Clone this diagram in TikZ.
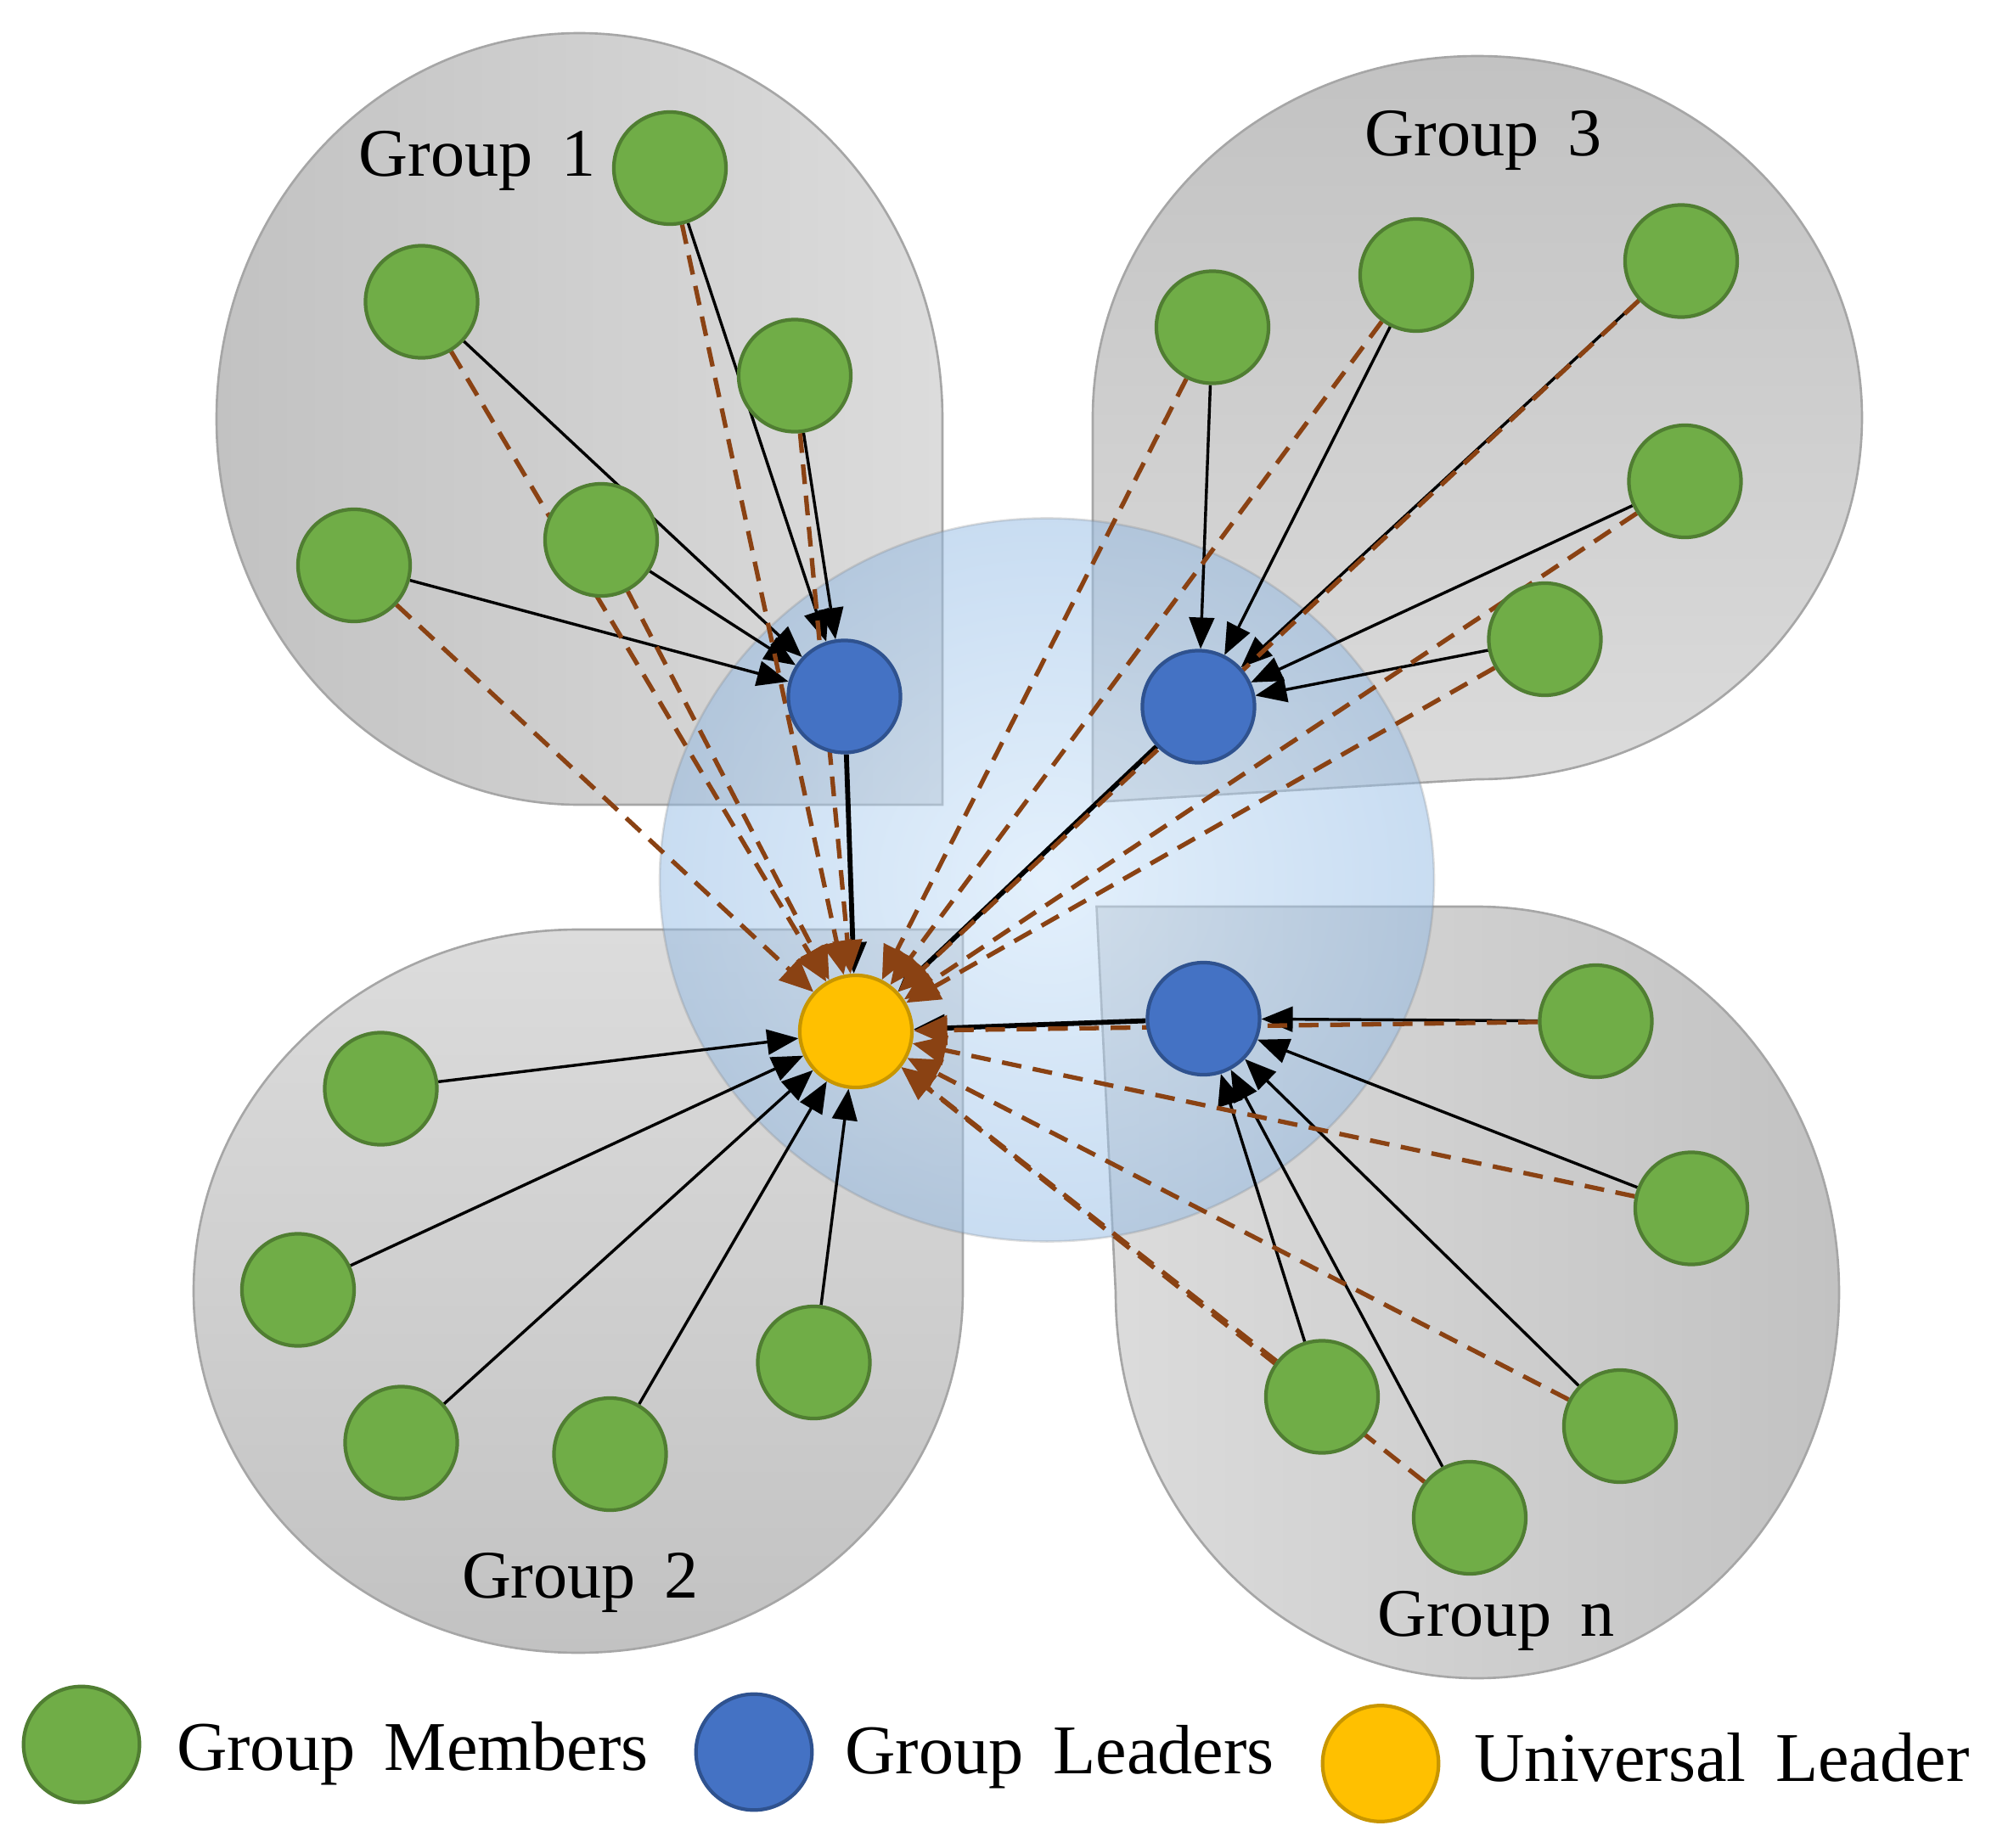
\documentclass[tikz,border=0pt]{standalone}
\usepackage{fontspec}
\setmainfont{Liberation Serif}
\usetikzlibrary{arrows.meta}
\definecolor{memfill}{HTML}{70AD47}
\definecolor{memdraw}{HTML}{507E32}
\definecolor{leadfill}{HTML}{4472C4}
\definecolor{leaddraw}{HTML}{2F528F}
\definecolor{unifill}{HTML}{FFC000}
\definecolor{unidraw}{HTML}{C89600}
\definecolor{dashbrown}{HTML}{8A4213}
\definecolor{glight}{HTML}{DCDCDC}
\definecolor{gdark}{HTML}{C2C2C2}
\definecolor{gborder}{HTML}{A6A6A6}
\definecolor{cin}{RGB}{200,226,250}
\definecolor{cout}{RGB}{146,186,228}
\newcommand\grpfont{\fontsize{15.2}{18}\selectfont}
\newcommand\legfont{\fontsize{15.6}{18}\selectfont}
\newcommand\wsp{\hspace{0.42em}}
\pgfdeclarelayer{bg}
\pgfdeclarelayer{edges}
\pgfsetlayers{bg,edges,main}
\begin{document}
\begin{tikzpicture}[x=0.01cm,y=0.01cm,
  member/.style={circle, draw=memdraw, fill=memfill, line width=0.8pt, minimum size=0.88cm, inner sep=0pt},
  leader/.style={member, draw=leaddraw, fill=leadfill},
  uleader/.style={member, draw=unidraw, fill=unifill},
  legendmark/.style={minimum size=0.91cm},
  solidarrow/.style={draw=black, line width=0.65pt, -{Triangle[length=7pt,width=5.6pt]}},
  leadarrow/.style={draw=black, line width=1.1pt, -{Triangle[length=7pt,width=6pt]}},
  dasharrow/.style={draw=dashbrown, line width=1pt, dash pattern=on 4.4pt off 2.6pt, -{Triangle[length=7.5pt,width=6.5pt]}},
  grouplabel/.style={font=\grpfont, anchor=base west, inner sep=0pt},
  legendlabel/.style={font=\legfont, anchor=base west, inner sep=0pt},
  groupshape/.style={draw=gborder, line width=0.5pt},
]
\path[use as bounding box] (0,0) rectangle (1568,-1451);

% ---------- nodes ----------
% Group 1
\node[member] (g1a) at (526,-132) {};
\node[member] (g1b) at (331,-237) {};
\node[member] (g1c) at (624,-295) {};
\node[member] (g1d) at (278,-444) {};
\node[member] (g1e) at (472,-424) {};
\node[leader] (l1) at (663,-547) {};
% Group 3
\node[member] (g3a) at (952,-257) {};
\node[member] (g3b) at (1112,-216) {};
\node[member] (g3c) at (1320,-205) {};
\node[member] (g3d) at (1323,-378) {};
\node[member] (g3e) at (1213,-502) {};
\node[leader] (l3) at (941,-555) {};
% Group 2
\node[member] (g2a) at (299,-855) {};
\node[member] (g2b) at (234,-1013) {};
\node[member] (g2c) at (315,-1133) {};
\node[member] (g2d) at (479,-1142) {};
\node[member] (g2e) at (639,-1070) {};
\node[uleader] (u) at (672,-810) {};
% Group n
\node[member] (gna) at (1253,-802) {};
\node[member] (gnb) at (1328,-949) {};
\node[member] (gnc) at (1272,-1120) {};
\node[member] (gnd) at (1154,-1192) {};
\node[member] (gne) at (1038,-1097) {};
\node[leader] (ln) at (945,-800) {};

% labels
\node[grouplabel] (t1) at (281,-138) {Group\wsp 1};
\node[grouplabel] (t3) at (1071,-122) {Group\wsp 3};
\node[grouplabel] (t2) at (362,-1255) {Group\wsp 2};
\node[grouplabel] (tn) at (1081,-1285) {Group\wsp n};

% legend
\node[member, legendmark] (lg1) at (64,-1370) {};
\node[legendlabel] (lt1) at (138,-1390) {Group\wsp Members};
\node[leader, legendmark] (lg2) at (592,-1376) {};
\node[legendlabel] (lt2) at (663,-1393) {Group\wsp Leaders};
\node[uleader, legendmark] (lg3) at (1084,-1385) {};
\node[legendlabel] (lt3) at (1157,-1399) {Universal\wsp Leader};

% ---------- background shapes ----------
\begin{pgfonlayer}{bg}
\shade[groupshape, left color=gdark, right color=glight]
  (740,-329) arc[start angle=0, end angle=270, x radius=285, y radius=303] -- (740,-632) -- cycle;
\shade[groupshape, top color=gdark, bottom color=glight]
  (1160,-612) arc[start angle=270, end angle=540, x radius=302, y radius=284] -- (858,-630) -- cycle;
\shade[groupshape, top color=glight, bottom color=gdark]
  (454,-730) arc[start angle=90, end angle=360, x radius=302, y radius=284] -- (756,-730) -- cycle;
\shade[groupshape, left color=glight, right color=gdark]
  (876,-1015) arc[start angle=180, end angle=450, x radius=284, y radius=303] -- (861,-712) -- cycle;
\shade[inner color=cin, outer color=cout, fill opacity=0.5, draw=gray, draw opacity=0.25, line width=0.5pt]
  (822,-691) ellipse [x radius=304, y radius=284];
\end{pgfonlayer}

% ---------- connectors ----------
\begin{pgfonlayer}{edges}
\foreach \m in {g1a,g1b,g1c,g1d,g1e} \draw[solidarrow] (\m) -- (l1);
\foreach \m in {g3a,g3b,g3c,g3d,g3e} \draw[solidarrow] (\m) -- (l3);
\foreach \m in {gna,gnb,gnc,gnd,gne} \draw[solidarrow] (\m) -- (ln);
\foreach \m in {g2a,g2b,g2c,g2d,g2e} \draw[solidarrow] (\m) -- (u);
\foreach \m in {l1,l3,ln} \draw[leadarrow] (\m) -- (u);
\foreach \m in {g1a,g1b,g1c,g1d,g1e,g3a,g3b,g3c,g3d,g3e,gna,gnb,gnc,gnd,gne} \draw[dasharrow] (\m) -- (u);
\end{pgfonlayer}
\end{tikzpicture}
\end{document}
